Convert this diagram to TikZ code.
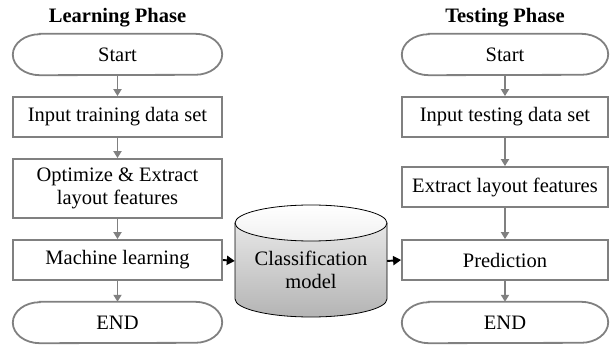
\documentclass[tikz,border=0pt]{standalone}
\usepackage{fontspec}
\setmainfont{Liberation Serif}
\usetikzlibrary{arrows.meta}
\definecolor{linegray}{RGB}{128,128,128}
\definecolor{cyltop}{RGB}{240,240,240}
\definecolor{cylbot}{RGB}{180,180,180}
\newcommand{\stadiumpath}[1]{%
  \draw[linegray,line width=1.8pt]
    ([xshift=27pt]#1.north west) -- ([xshift=-27pt]#1.north east)
    arc[start angle=90,end angle=-90,x radius=27pt,y radius=20.5pt]
    -- ([xshift=27pt]#1.south west)
    arc[start angle=270,end angle=90,x radius=27pt,y radius=20.5pt] -- cycle;}
\begin{document}
\begin{tikzpicture}[x=1pt,y=1pt,
  txt/.style={font=\fontsize{20.5}{23}\selectfont, align=center},
  box/.style={txt, draw=linegray, line width=1.8pt, inner sep=0pt, minimum height=40pt},
  lbox/.style={box, minimum width=209pt},
  rbox/.style={box, minimum width=206pt},
  term/.style={txt, inner sep=0pt, minimum height=41pt},
  title/.style={font=\fontsize{20.5}{23}\selectfont\bfseries},
  garrow/.style={linegray, line width=1.8pt, -{Triangle[width=8pt,length=7pt]}},
  barrow/.style={black, line width=1.9pt, -{Triangle[width=9pt,length=8pt]}}
]
\useasboundingbox (0,0) rectangle (610,-347);

% titles
\node[title] (tl) at (117.5,-18) {Learning Phase};
\node[title] (tr) at (505,-18) {Testing Phase};

% left column
\node[term, minimum width=209pt] (ls) at (117.5,-54.5) {Start};
\stadiumpath{ls}
\node[lbox] (l1) at (117.5,-117) {Input training data set};
\node[lbox, minimum height=59pt] (l2) at (117.5,-188.5) {Optimize \& Extract\\layout features};
\node[lbox] (l3) at (117.5,-260) {Machine learning};
\node[term, minimum width=209pt] (le) at (117.5,-322.5) {END};
\stadiumpath{le}

% right column
\node[term, minimum width=206pt] (rs) at (505,-54.5) {Start};
\stadiumpath{rs}
\node[rbox] (r1) at (505,-117) {Input testing data set};
\node[rbox] (r2) at (505,-187) {Extract layout features};
\node[rbox] (r3) at (505,-260) {Prediction};
\node[term, minimum width=206pt] (re) at (505,-322.5) {END};
\stadiumpath{re}

% cylinder
\node[minimum width=152pt, minimum height=112pt, inner sep=0pt] (cyl) at (311,-261) {};
\shade[top color=cyltop, bottom color=cylbot]
  (235,-223) -- (235,-299) arc[start angle=180,end angle=360,x radius=76pt,y radius=18pt]
  -- (387,-223) arc[start angle=0,end angle=180,x radius=76pt,y radius=18pt] -- cycle;
\shade[top color=white, bottom color=cyltop]
  (311,-223) ellipse[x radius=76pt,y radius=18pt];
\draw[black, line width=0.8pt]
  (235,-223) -- (235,-299) arc[start angle=180,end angle=360,x radius=76pt,y radius=18pt]
  -- (387,-223);
\draw[black, line width=0.8pt] (311,-223) ellipse[x radius=76pt,y radius=18pt];
\node[txt] (cyltext) at (311,-270) {Classification\\model};

% connectors
\draw[garrow] (ls) -- (l1);
\draw[garrow] (l1) -- (l2);
\draw[garrow] (l2) -- (l3);
\draw[garrow] (l3) -- (le);
\draw[garrow] (rs) -- (r1);
\draw[garrow] (r1) -- (r2);
\draw[garrow] (r2) -- (r3);
\draw[garrow] (r3) -- (re);
\draw[barrow] (l3.east) -- (cyl.west);
\draw[barrow] (cyl.east) -- (r3.west);
\end{tikzpicture}
\end{document}
